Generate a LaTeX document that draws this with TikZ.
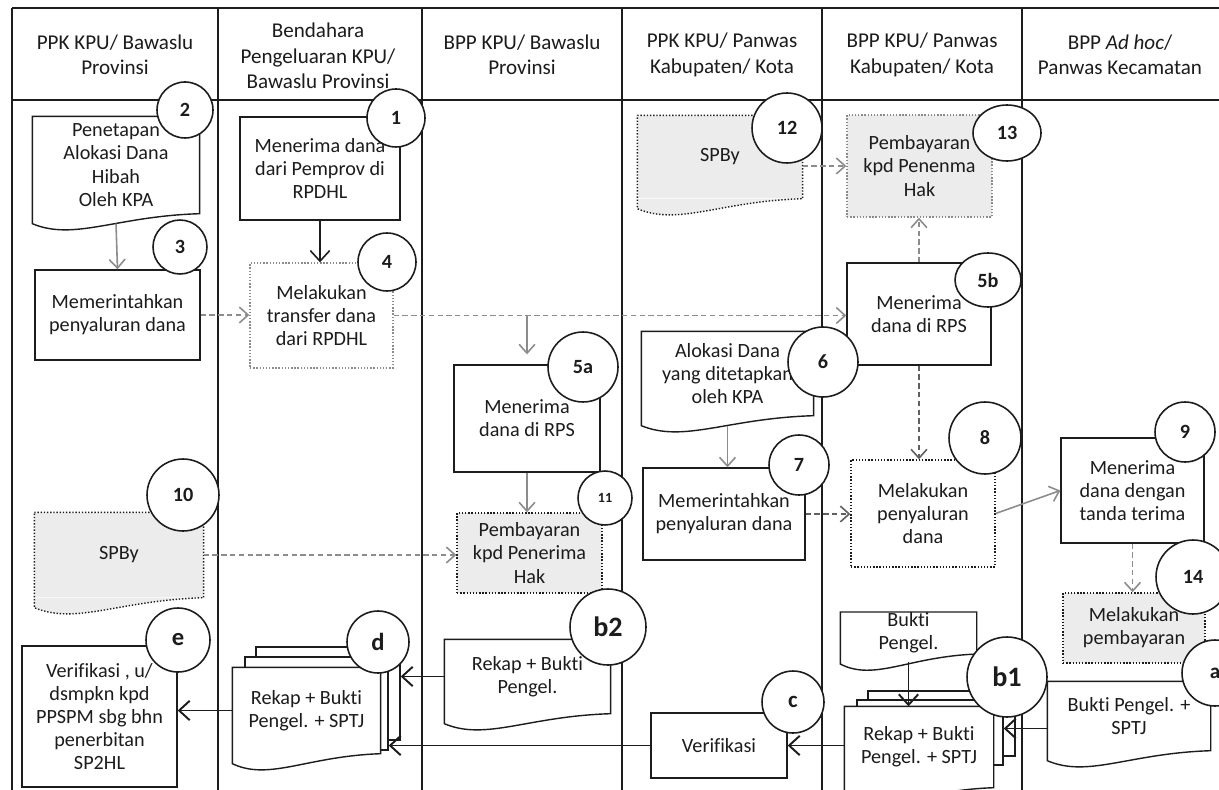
\documentclass[tikz,border=0pt]{standalone}
\usepackage{fontspec}
\setmainfont{Carlito}[Ligatures=NoCommon]
\usepackage{tikz}
\usetikzlibrary{arrows.meta, calc, shapes.geometric}
\definecolor{ink}{HTML}{1C1C1C}
\definecolor{shade}{HTML}{ECECEC}
\definecolor{flowgray}{HTML}{8C8C8C}
\newcommand{\docoutline}[2][fill=white, draw=ink]{%
  \path[#1, draw=none] (#2.south west) -- (#2.south east)
    .. controls ($(#2.south)+(0,-0.05cm)$) and ($(#2.south west)!0.5!(#2.south)+(0,-0.55cm)$) .. ($(#2.south west)+(0,-0.2cm)$) -- cycle;
  \draw[line width=0.8pt, #1, fill=none] (#2.north west) -- (#2.north east) -- (#2.south east)
    .. controls ($(#2.south)+(0,-0.05cm)$) and ($(#2.south west)!0.5!(#2.south)+(0,-0.55cm)$) .. ($(#2.south west)+(0,-0.2cm)$) -- cycle;}

\begin{document}
\begin{tikzpicture}[x=0.02cm, y=-0.02cm,
  lane/.style={draw=ink, line width=1.1pt},
  lanehead/.style={align=center, text=ink, font=\fontsize{12}{14.5}\selectfont},
  procbox/.style={draw=ink, line width=0.8pt, fill=white, align=center, inner sep=0pt, text=ink, font=\fontsize{11.5}{13.2}\selectfont},
  shadedbox/.style={procbox, fill=shade, densely dotted},
  docbox/.style={procbox, draw=none},
  pagebox/.style={draw=ink, line width=0.8pt, fill=white, inner sep=0pt},
  stepno/.style={circle, draw=ink, line width=0.9pt, fill=white, inner sep=0pt, text=ink, font=\fontsize{11.5}{13}\selectfont\bfseries},
  flow/.style={draw=flowgray, line width=0.9pt, -{Straight Barb[length=5pt, width=9pt]}},
  dashflow/.style={flow, densely dashed},
  solidflow/.style={draw=ink, line width=1.1pt, -{Straight Barb[length=6pt, width=11pt]}}]
\useasboundingbox (0,0) rectangle (1219,790);
\fill[white] (0,0) rectangle (1219,790);

\draw[lane] (12,8) -- (1219,8);
\draw[lane] (12,100) -- (1219,100);
\foreach \x in {12,218,422,622,822,1022}
  \draw[lane] (\x,8) -- (\x,790);

\node[lanehead] (h1) at (115,55) {PPK KPU/ Bawaslu\\Provinsi};
\node[lanehead] (h2) at (318,56) {Bendahara\\Pengeluaran KPU/\\Bawaslu Provinsi};
\node[lanehead] (h3) at (522,55) {BPP KPU/ Bawaslu\\Provinsi};
\node[lanehead] (h4) at (722,55) {PPK KPU/ Panwas\\Kabupaten/ Kota};
\node[lanehead] (h5) at (922,55) {BPP KPU/ Panwas\\Kabupaten/ Kota};
\node[lanehead] (h6) at (1120,55) {BPP \textit{Ad hoc}/\\Panwas Kecamatan};

\node[docbox, minimum width=3.32cm, minimum height=1.92cm] (penetapan) at (116,165) {Penetapan\\Alokasi Dana\\Hibah\\Oleh KPA};
\docoutline{penetapan}
\node[procbox, minimum width=3.3cm, minimum height=1.8cm] (perintah1) at (117.5,315) {Memerintahkan\\penyaluran dana};
\node[docbox, fill=shade, minimum width=3.36cm, minimum height=1.68cm] (spby1) at (119,555) {SPBy};
\docoutline[fill=shade, draw=ink, densely dotted]{spby1}
\node[procbox, minimum width=3.1cm, minimum height=2.82cm] (verife) at (99.5,716.5) {Verifikasi , u/\\dsmpkn kpd\\PPSPM sbg bhn\\penerbitan\\SP2HL};

\node[procbox, minimum width=3.2cm, minimum height=2.06cm] (terima1) at (320,168.5) {Menerima dana\\dari Pemprov di\\RPDHL};
\node[procbox, draw=flowgray, densely dotted, minimum width=2.86cm, minimum height=2.1cm] (transfer) at (321.5,315.5) {Melakukan\\transfer dana\\dari RPDHL};
\node[pagebox, minimum width=2.88cm, minimum height=1.86cm] (rekapdp3) at (328,693.5) {};
\node[pagebox, minimum width=2.86cm, minimum height=1.86cm] (rekapdp2) at (316.5,703.5) {};
\node[docbox, minimum width=2.94cm, minimum height=1.7cm] (rekapd) at (306.5,710.5) {Rekap + Bukti\\Pengel. + SPTJ};
\docoutline{rekapd}

\node[procbox, minimum width=2.92cm, minimum height=2.14cm] (terima5a) at (527,418.5) {Menerima\\dana di RPS};
\node[shadedbox, minimum width=2.9cm, minimum height=1.6cm] (bayar1) at (529.5,553) {Pembayaran\\kpd Penerima\\Hak};
\node[docbox, minimum width=3.3cm, minimum height=1.46cm] (rekapb2) at (527.5,676.5) {Rekap + Bukti\\Pengel.};
\docoutline{rekapb2}

\node[docbox, fill=shade, minimum width=3.28cm, minimum height=1.64cm] (spby2) at (720,157) {SPBy};
\docoutline[fill=shade, draw=ink, densely dotted]{spby2}
\node[docbox, minimum width=3.42cm, minimum height=1.66cm] (alokasi) at (727.5,373.5) {Alokasi Dana\\yang ditetapkan\\oleh KPA};
\docoutline{alokasi}
\node[procbox, minimum width=3.24cm, minimum height=1.84cm] (perintah2) at (724,514) {Memerintahkan\\penyaluran dana};
\node[procbox, minimum width=2.72cm, minimum height=1.3cm] (verifc) at (719,745.5) {Verifikasi};

\node[shadedbox, draw=flowgray, minimum width=2.9cm, minimum height=2.04cm] (bayar2) at (919.5,166) {Pembayaran\\kpd Penenma\\Hak};
\node[procbox, minimum width=2.88cm, minimum height=2.04cm] (terima5b) at (919,314) {Menerima\\dana di RPS};
\node[procbox, densely dotted, minimum width=2.88cm, minimum height=2.14cm] (salur) at (923,513.5) {Melakukan\\penyaluran\\dana};
\node[docbox, minimum width=2.7cm, minimum height=0.8cm] (bukti) at (908.5,633) {Bukti\\Pengel.};
\docoutline{bukti}
\node[pagebox, minimum width=2.94cm, minimum height=1.3cm] (rekapb1p3) at (941.5,723.5) {};
\node[pagebox, minimum width=2.92cm, minimum height=1.3cm] (rekapb1p2) at (930,732.5) {};
\node[docbox, minimum width=2.96cm, minimum height=1.6cm] (rekapb1) at (919,747) {Rekap + Bukti\\Pengel. + SPTJ};
\docoutline{rekapb1}

\node[procbox, minimum width=2.86cm, minimum height=2.1cm] (terima9) at (1132.5,490.5) {Menerima\\dana dengan\\tanda terima};
\node[shadedbox, minimum width=2.84cm, minimum height=1.4cm] (bayar3) at (1134,628) {Melakukan\\pembayaran};
\node[docbox, minimum width=3.24cm, minimum height=1.36cm] (buktisptj) at (1129,716) {Bukti Pengel. +\\SPTJ};
\docoutline{buktisptj}

\draw[flow] ([yshift=-0.2cm]penetapan.south) -- (perintah1.north);
\draw[dashflow] (perintah1.east) -- (perintah1.east -| transfer.west);
\draw[solidflow, line width=0.9pt] (terima1.south) -- (terima1.south |- transfer.north);
\draw[dashflow] (transfer.east) -- (transfer.east -| terima5b.west);
\draw[flow] (terima5a.north |- transfer.east) -- ([yshift=0.2cm]terima5a.north);
\draw[flow] (terima5a.south) -- (terima5a.south |- bayar1.north);
\draw[dashflow] (spby1.east) -- (spby1.east -| bayar1.west);
\draw[dashflow] (spby2.east |- bayar2.west) -- (bayar2.west);
\draw[dashflow] (terima5b.north) -- (terima5b.north |- bayar2.south);
\draw[dashflow, draw=ink!70] (terima5b.south) -- (terima5b.south |- salur.north);
\draw[flow] ([yshift=-0.2cm]alokasi.south) -- (alokasi.south |- perintah2.north);
\draw[dashflow, draw=ink!70] (perintah2.east) -- (perintah2.east -| salur.west);
\draw[flow] (salur.east) -- (terima9.west);
\draw[dashflow] (terima9.south) -- (terima9.south |- bayar3.north);
\draw[solidflow] ([yshift=-0.15cm]bukti.south) -- (bukti.south |- rekapb1.north);
\draw[solidflow] ([yshift=-0.25cm]buktisptj.west) -- ([yshift=-0.25cm]buktisptj.west -| rekapb1p2.east);
\draw[solidflow] (rekapb1.west |- verifc.east) -- (verifc.east);
\draw[solidflow] (verifc.west) -- (verifc.west -| rekapdp2.east);
\draw[solidflow] (rekapb2.west) -- (rekapb2.west -| rekapdp3.east);
\draw[solidflow] (rekapd.west) -- (rekapd.west -| verife.east);

\node[stepno, minimum size=1.12cm] (n2) at (185,110) {2};
\node[stepno, minimum size=1.16cm] (n1) at (396,118) {1};
\node[stepno, minimum size=1.08cm] (n3) at (180,247) {3};
\node[stepno, minimum size=1.16cm] (n4) at (387,262) {4};
\node[stepno, minimum size=1.44cm] (n10) at (183,495) {10};
\node[stepno, minimum size=1.28cm, font=\fontsize{14}{16}\selectfont\bfseries] (ne) at (178,640) {e};
\node[stepno, minimum size=1.24cm, font=\fontsize{14}{16}\selectfont\bfseries] (nd) at (378,642) {d};
\node[stepno, minimum size=1.4cm] (n5a) at (583,367) {5a};
\node[stepno, minimum size=1.08cm, font=\fontsize{8}{10}\selectfont\bfseries] (n11) at (605,498) {11};
\node[stepno, minimum size=1.52cm, font=\fontsize{16}{18}\selectfont\bfseries] (nb2) at (608,627) {b2};
\node[stepno, minimum size=1.4cm] (n12) at (787,128) {12};
\node[stepno, minimum size=1.4cm] (n6) at (823,362) {6};
\node[stepno, minimum size=1.2cm] (n7) at (799,465) {7};
\node[stepno, minimum size=1.24cm, font=\fontsize{13}{15}\selectfont\bfseries] (nc) at (793,702) {c};
\node[stepno, ellipse, minimum width=1.36cm, minimum height=1.12cm] (n13) at (1007,133) {13};
\node[stepno, ellipse, minimum width=1.32cm, minimum height=1.08cm] (n5b) at (988,280) {5b};
\node[stepno, minimum size=1.44cm] (n8) at (985,438) {8};
\node[stepno, minimum size=1.6cm, font=\fontsize{16}{18}\selectfont\bfseries] (nb1) at (1007,677) {b1};
\node[stepno, minimum size=1.2cm] (n9) at (1185,432) {9};
\node[stepno, minimum size=1.48cm] (n14) at (1193,577) {14};
\node[stepno, minimum size=1.32cm, font=\fontsize{12}{14}\selectfont\bfseries] (na) at (1215,673) {a};
\end{tikzpicture}
\end{document}
